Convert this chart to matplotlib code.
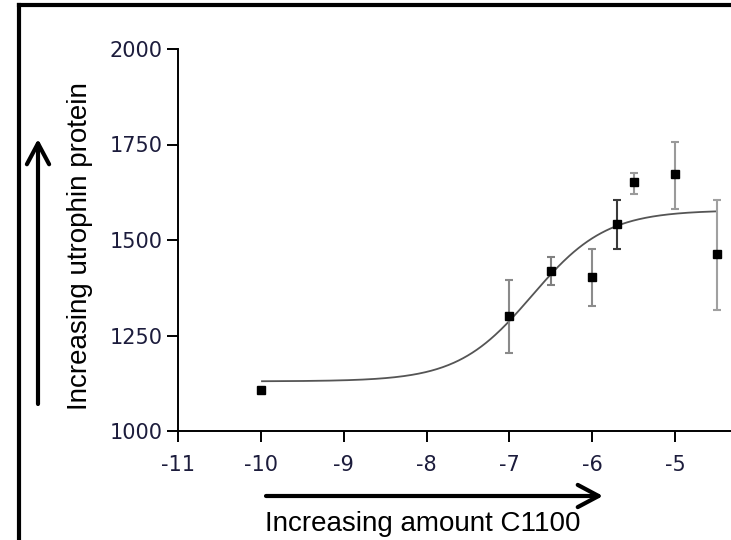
import numpy as np
import matplotlib
matplotlib.use("Agg")
import matplotlib.pyplot as plt
from matplotlib.lines import Line2D
from matplotlib.patches import ArrowStyle, FancyArrowPatch

plt.rcParams['axes.unicode_minus'] = False

# ---- data ----
log_conc = [-10.0, -7.0, -6.5, -6.0, -5.7, -5.5, -5.0, -4.5]
utrophin = [1108, 1300, 1418, 1404, 1542, 1651, 1672, 1463]
err_upper = [0, 95, 37, 73, 63, 25, 85, 141]
err_lower = [0, 96, 37, 76, 66, 31, 91, 146]

# fitted sigmoid (four-parameter logistic) parameters
fit_bottom = 1130
fit_top = 1578
fit_log_ec50 = -6.73
fit_hill = 0.97
fit_range = (-10.0, -4.5)

x_ticks = [-11, -10, -9, -8, -7, -6, -5]
x_tick_labels = ['-11', '-10', '-9', '-8', '-7', '-6', '-5']
y_ticks = [1000, 1250, 1500, 1750, 2000]
y_tick_labels = ['1000', '1250', '1500', '1750', '2000']

x_label = 'Increasing amount C1100'
y_label = 'Increasing utrophin protein'

# ---- styles ----
bar_colors = ['#999999', '#8a8a8a', '#808080', '#8c8c8c', '#3a3a3a', '#9a9a9a', '#9a9a9a', '#a0a0a0']

W, H = 731, 540
fig = plt.figure(figsize=(W / 100, H / 100), dpi=100)

ax_left, ax_right = 178.3 / W, 1.0
ax_bottom, ax_top = 1 - 431 / H, 1 - 49 / H
ax = fig.add_axes([ax_left, ax_bottom, ax_right - ax_left, ax_top - ax_bottom])

xmin = -11
xmax = -11 + (W - 178.3) / 82.8
ax.set_xlim(xmin, xmax)
ax.set_ylim(1000, 2000)

# fitted curve
xc = np.linspace(fit_range[0], fit_range[1], 400)
yc = fit_bottom + (fit_top - fit_bottom) / (1 + 10 ** ((fit_log_ec50 - xc) * fit_hill))
ax.plot(xc, yc, color='#555555', lw=1.3, zorder=2, solid_capstyle='butt')

# error bars and points
for xi, yi, eu, el, c in zip(log_conc, utrophin, err_upper, err_lower, bar_colors):
    if eu > 0 or el > 0:
        ax.errorbar([xi], [yi], yerr=[[el], [eu]], fmt='none', ecolor=c,
                    elinewidth=1.5, capsize=2.9, capthick=1.5, zorder=3)
ax.plot(log_conc, utrophin, linestyle='none', marker='s', markersize=5.3,
        color='black', zorder=4)

for s in ['top', 'right']:
    ax.spines[s].set_visible(False)
for s in ['left', 'bottom']:
    ax.spines[s].set_linewidth(1.4)
    ax.spines[s].set_color('black')

ax.set_xticks(x_ticks)
ax.set_xticklabels(x_tick_labels)
ax.set_yticks(y_ticks)
ax.set_yticklabels(y_tick_labels)
ax.tick_params(axis='both', direction='out', length=8, width=1.4, color='black',
               labelsize=15, labelcolor='#1c1c3c')
ax.tick_params(axis='y', pad=3.5)
ax.tick_params(axis='x', pad=9)
for lab in ax.get_xticklabels() + ax.get_yticklabels():
    lab.set_family('DejaVu Sans')

# axis labels as figure text
fig.text(423 / W, 1 - 524 / H, x_label, ha='center', va='center',
         fontsize=20, family='Liberation Sans', color='black')
fig.text(80 / W, 1 - 246 / H, y_label, ha='center', va='center', rotation=90,
         fontsize=20, family='Liberation Sans', color='black')

# arrows
astyle = ArrowStyle('->', head_length=15, head_width=8)
fig.patches.append(FancyArrowPatch(
    (266 / W, 1 - 496 / H), (603 / W, 1 - 496 / H), transform=fig.transFigure,
    arrowstyle=astyle, mutation_scale=1, lw=3, color='black', shrinkA=0, shrinkB=0))
fig.patches.append(FancyArrowPatch(
    (38 / W, 1 - 404 / H), (38 / W, 1 - 139 / H), transform=fig.transFigure,
    arrowstyle=astyle, mutation_scale=1, lw=3, color='black', shrinkA=0, shrinkB=0))

# frame (left and top edges visible)
fig.add_artist(Line2D([18.5 / W, 18.5 / W], [0, 1 - 5 / H], transform=fig.transFigure,
                      color='black', lw=3, solid_capstyle='projecting'))
fig.add_artist(Line2D([18.5 / W, 1], [1 - 5 / H, 1 - 5 / H], transform=fig.transFigure,
                      color='black', lw=3, solid_capstyle='projecting'))

fig.savefig('out.png', dpi=100)
